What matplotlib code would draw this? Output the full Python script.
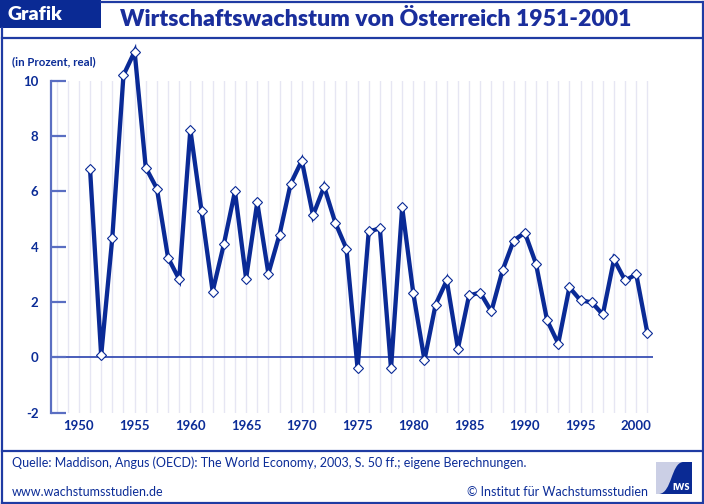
import matplotlib
matplotlib.use("Agg")
import matplotlib.pyplot as plt
from matplotlib.patches import Rectangle, PathPatch
from matplotlib.lines import Line2D
from matplotlib.path import Path

years = list(range(1951, 2002))
growth = [6.82, 0.07, 4.33, 10.2, 11.05, 6.86, 6.10, 3.60, 2.82, 8.23,
          5.30, 2.38, 4.08, 6.00, 2.85, 5.60, 3.03, 4.44, 6.28, 7.11,
          5.13, 6.17, 4.87, 3.93, -0.40, 4.55, 4.66, -0.40, 5.42, 2.31,
          -0.10, 1.91, 2.78, 0.32, 2.24, 2.34, 1.66, 3.14, 4.22, 4.51,
          3.39, 1.34, 0.50, 2.53, 2.06, 1.99, 1.55, 3.54, 2.78, 3.00,
          0.87]
grid_years = list(range(1948, 2002))
xtick_years = [1950, 1955, 1960, 1965, 1970, 1975, 1980, 1985, 1990, 1995, 2000]
yticks = [-2, 0, 2, 4, 6, 8, 10]

title = "Wirtschaftswachstum von Österreich 1951-2001"
label_tag = "Grafik"
unit_label = "(in Prozent, real)"
source = "Quelle: Maddison, Angus (OECD): The World Economy, 2003, S. 50 ff.; eigene Berechnungen."
website = "www.wachstumsstudien.de"
copyright_txt = "© Institut für Wachstumsstudien"

W, H = 704, 504
BLUE = "#0b2c97"
FRAME = "#1f3ba3"
AXBLUE = "#5a6ec2"
GRID = "#e6e6f3"
FONT = "Lato"

fig = plt.figure(figsize=(W / 100, H / 100), dpi=100)
fig.patch.set_facecolor("white")


def fx(px):
    return px / W


def fy(py):
    return 1 - py / H


def hline(x0, x1, y, lw=1.6, color=FRAME):
    fig.add_artist(Line2D([fx(x0), fx(x1)], [fy(y), fy(y)], transform=fig.transFigure,
                          color=color, lw=lw))


def vline(x, y0, y1, lw=1.6, color=FRAME):
    fig.add_artist(Line2D([fx(x), fx(x)], [fy(y0), fy(y1)], transform=fig.transFigure,
                          color=color, lw=lw))


# frame
hline(101, 702.5, 1.8)
vline(702.5, 1.8, 502.5)
hline(1.5, 702.5, 502.5)
vline(1.5, 28, 502.5)
hline(1.5, 702.5, 37.5)
hline(1.5, 702.5, 451)

# Grafik box
fig.add_artist(Rectangle((fx(0), fy(28)), fx(101), 28 / H, transform=fig.transFigure,
                         facecolor="#0a2a94", edgecolor="none"))
fig.text(fx(8), fy(14.5), label_tag, color="white", fontsize=14, fontweight="heavy",
         family=FONT, va="center", ha="left")
fig.text(fx(120), fy(20), title, color="#1a2e9c", fontsize=16.6, fontweight="heavy",
         family=FONT, va="center", ha="left")

# axes
L, R, T, B = 51, 653, 80.7, 412.7
ax = fig.add_axes([fx(L), fy(B), fx(R) - fx(L), (B - T) / H])
ax.set_xlim(1947.5, 2001.5)
ax.set_ylim(-2, 10)
for s in ["top", "right", "bottom"]:
    ax.spines[s].set_visible(False)
ax.spines["left"].set_color(AXBLUE)
ax.spines["left"].set_linewidth(1.6)

for gy in grid_years:
    ax.axvline(gy, color=GRID, lw=1.0, zorder=0)
ax.axhline(0, color="#3a50b4", lw=1.3, zorder=1)

ax.set_yticks(yticks)
ax.set_yticklabels([str(v) for v in yticks])
ax.tick_params(axis="y", direction="in", length=11, width=1.6, color=AXBLUE,
               labelcolor=BLUE, labelsize=9.5, pad=9)
ax.set_xticks(xtick_years)
ax.set_xticklabels([str(v) for v in xtick_years])
ax.tick_params(axis="x", length=0, labelcolor=BLUE, labelsize=9.5, pad=5)
for lab in ax.get_xticklabels() + ax.get_yticklabels():
    lab.set_fontweight("bold")
    lab.set_family(FONT)

ax.plot(years, growth, color="#0a2a96", lw=3.1, marker="D", markersize=5.2,
        markerfacecolor="white", markeredgecolor="#0a2a96", markeredgewidth=0.8,
        clip_on=False, zorder=3, solid_joinstyle="miter")

fig.text(fx(12), fy(62), unit_label, color=BLUE, fontsize=8.3, fontweight="bold",
         family=FONT, va="center", ha="left")

# footer
fig.text(fx(12), fy(463), source, color=BLUE, fontsize=9.0, family=FONT,
         va="center", ha="left")
fig.text(fx(12), fy(492), website, color=BLUE, fontsize=9.0, family=FONT,
         va="center", ha="left")
fig.text(fx(648), fy(492), copyright_txt, color=BLUE, fontsize=9.0, family=FONT,
         va="center", ha="right")

# logo
lx0, ly0, lx1, ly1 = 656, 462, 692, 494
fig.add_artist(Rectangle((fx(lx0), fy(ly1)), fx(lx1) - fx(lx0), (ly1 - ly0) / H,
                         transform=fig.transFigure, facecolor="#cbcfe5", edgecolor="none"))
verts = [(lx1, ly0), (lx0 + 27, ly0), (lx0 + 15, ly0 + 1), (lx0 + 16, ly1 - 1),
         (lx0 + 3, ly1), (lx1, ly1), (lx1, ly0)]
codes = [Path.MOVETO, Path.LINETO, Path.CURVE4, Path.CURVE4, Path.CURVE4,
         Path.LINETO, Path.CLOSEPOLY]
verts_f = [(fx(a), fy(b)) for a, b in verts]
fig.add_artist(PathPatch(Path(verts_f, codes), transform=fig.transFigure,
                         facecolor="#0a2a94", edgecolor="none"))
fig.text(fx(681), fy(488), "IWS", color="white", fontsize=6.5, fontweight="heavy",
         family=FONT, va="center", ha="center")

fig.savefig("out.png", dpi=100)
